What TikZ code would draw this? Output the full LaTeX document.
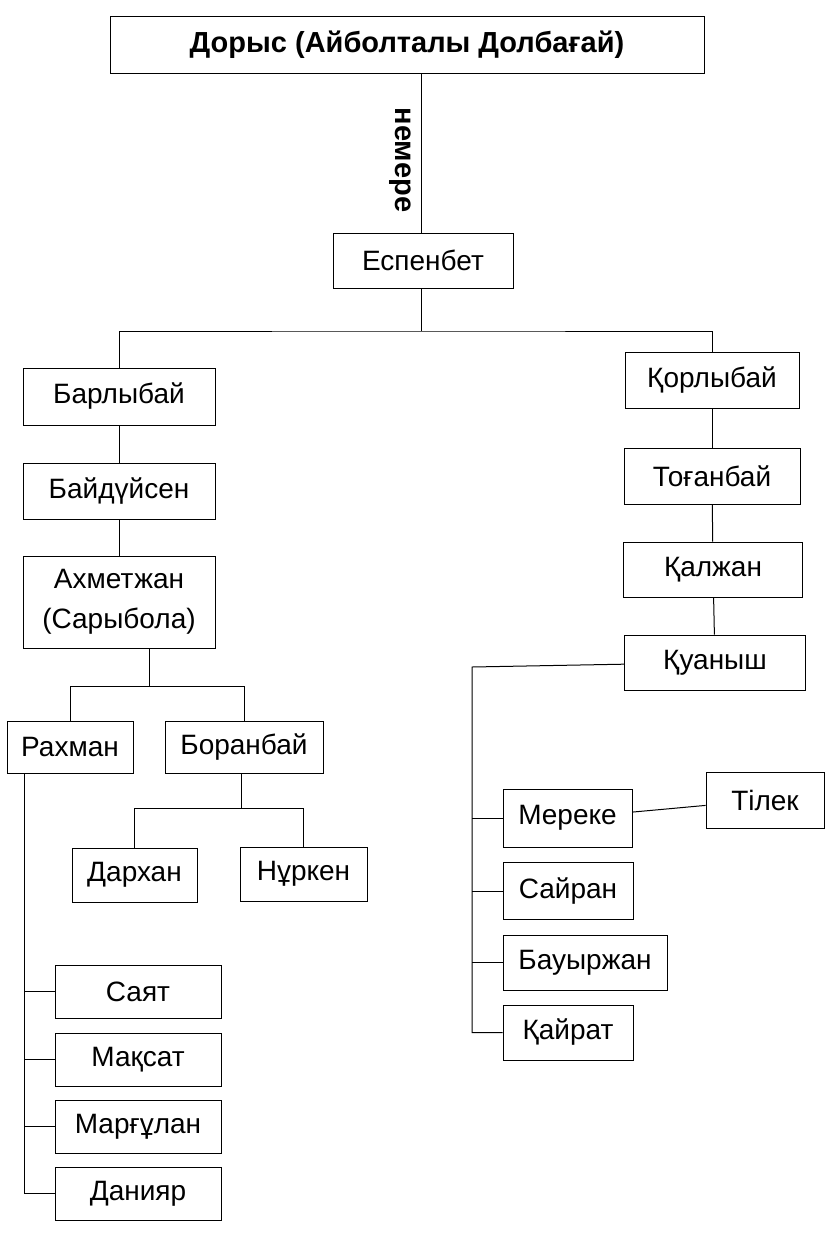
\documentclass[tikz,border=0pt]{standalone}
\usepackage{fontspec}
\setmainfont{Liberation Sans}
\begin{document}
\begin{tikzpicture}[
            x=1pt, y=-1pt,
            person/.style={draw, rectangle, line width=0.7pt, inner sep=0pt, minimum height=56pt, font=\fontsize{28}{40}\selectfont, align=center},
            link/.style={line width=1pt},
        ]
        \useasboundingbox (0,0) rectangle (825,1254);
        % root and first son
        \node [person, minimum width=594pt, minimum height=57pt, font=\fontsize{29}{34}\selectfont\bfseries] (dorys) at (407,45) {Дорыс (Айболталы Долбағай)};
        \node [person, minimum width=180pt, minimum height=55pt] (espenbet) at (423,260.5) {Еспенбет};
        \coordinate (dor-j) at (421,0);
        \draw [link] (dorys.south -| dor-j) -- (espenbet.north -| dor-j);
        \node [rotate=-90, font=\fontsize{29}{34}\selectfont\bfseries] (nemere) at (400,160) {немере};

        % left branch
        \node [person, minimum width=192pt, minimum height=57pt] (barlybai) at (119,396.5) {Барлыбай};
        \node [person, minimum width=192pt] (baiduisen) at (119,491) {Байдүйсен};
        \node [person, minimum width=192pt, minimum height=92pt] (akhmetzhan) at (119,602) {Ахметжан\\(Сарыбола)};
        \node [person, minimum width=126pt, minimum height=52pt] (rakhman) at (70,747) {Рахман};
        \node [person, minimum width=158pt, minimum height=52pt] (boranbai) at (244,747) {Боранбай};
        \node [person, minimum width=125pt, minimum height=54pt] (darkhan) at (134.5,875) {Дархан};
        \node [person, minimum width=127pt, minimum height=54pt] (nurken) at (303.5,874) {Нұркен};
        \node [person, minimum width=166pt, minimum height=53pt] (saiat) at (138,991.5) {Саят};
        \node [person, minimum width=166pt, minimum height=53pt] (maksat) at (138,1059.5) {Мақсат};
        \node [person, minimum width=166pt, minimum height=53pt] (margulan) at (138,1126.5) {Марғұлан};
        \node [person, minimum width=166pt, minimum height=53pt] (daniiar) at (138,1193.5) {Данияр};

        % right branch
        \node [person, minimum width=174pt] (korlybai) at (712,380) {Қорлыбай};
        \node [person, minimum width=176pt] (toganbai) at (712,476) {Тоғанбай};
        \node [person, minimum width=179pt, minimum height=55pt] (kalzhan) at (713,569.5) {Қалжан};
        \node [person, minimum width=181pt, minimum height=55pt] (kuanysh) at (715,662.5) {Қуаныш};
        \node [person, minimum width=129pt, minimum height=58pt] (mereke) at (567.5,818) {Мереке};
        \node [person, minimum width=118pt] (tilek) at (765,800) {Тілек};
        \node [person, minimum width=130pt, minimum height=57pt] (sairan) at (568,891) {Сайран};
        \node [person, minimum width=164pt, minimum height=55pt] (bauyrzhan) at (585,962.5) {Бауыржан};
        \node [person, minimum width=130pt, minimum height=55pt] (kairat) at (568,1032.5) {Қайрат};

        % junctions
        \coordinate (esp-j) at (421,331);
        \coordinate (akh-j) at (149,686);
        \coordinate (bor-j) at (241,808);
        \coordinate (rakh-b) at (24,1193.5);
        \coordinate (kua-top) at (472,667);
        \coordinate (kua-bot) at (472,1032.5);

        \draw [link] (espenbet.south -| esp-j) -- (esp-j);
        \draw [link] (barlybai) |- (esp-j) -| (korlybai);
        \draw [link] (barlybai) -- (baiduisen);
        \draw [link] (baiduisen) -- (akhmetzhan);
        \draw [link] (akhmetzhan.south -| akh-j) -- (akh-j);
        \draw [link] (rakhman) |- (akh-j) -| (boranbai);
        \draw [link] (boranbai.south -| bor-j) -- (bor-j);
        \draw [link] (darkhan) |- (bor-j) -| (nurken);
        \draw [link] (rakhman.south -| rakh-b) -- (rakh-b) -- (daniiar);
        \foreach \n in {saiat, maksat, margulan}
            \draw [link] (rakh-b |- \n) -- (\n);

        \draw [link] (korlybai) -- (toganbai);
        \draw [link] (toganbai) -- (kalzhan);
        \draw [link] (kalzhan) -- (kuanysh);
        \draw [link] (kuanysh) -- (kua-top) -- (kua-bot) -- (kairat);
        \foreach \n in {mereke, sairan, bauyrzhan}
            \draw [link] (kua-top |- \n) -- (\n);
        \draw [link] (mereke) -- (tilek);
\end{tikzpicture}
\end{document}
